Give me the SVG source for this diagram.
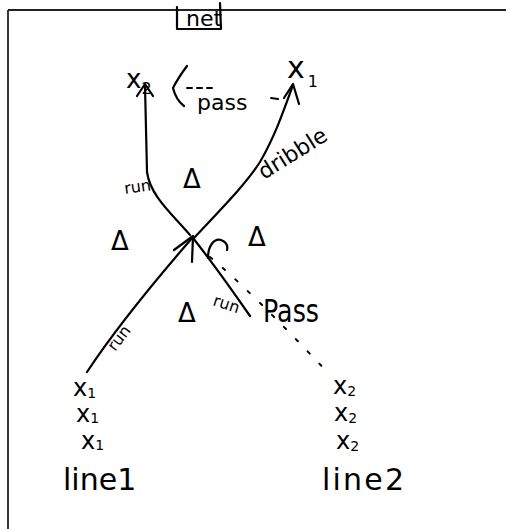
<svg xmlns="http://www.w3.org/2000/svg" width="506" height="529" viewBox="0 0 506 529">
<style>
.frame{stroke:#222;stroke-width:1.8;fill:none}
.ln{stroke:#000;stroke-width:2.2;fill:none;stroke-linecap:round;stroke-linejoin:round}
.dash{stroke:#000;stroke-width:2;fill:none;stroke-linecap:round}
.t{font-family:"DejaVu Sans","Liberation Sans",sans-serif;fill:#000}
.lab{font-family:"DejaVu Sans","Liberation Sans",sans-serif;fill:#000;font-size:16px}
.tri{font-family:"DejaVu Sans","Liberation Sans",sans-serif;fill:#000;font-size:26px}
.stk{font-family:"DejaVu Sans","Liberation Sans",sans-serif;fill:#000;font-size:24px}
</style>
<rect width="506" height="529" fill="#fff"/>
<path class="frame" d="M8,10 L506,10 M8,10 L8,529"/>

<g id="title">
  <path class="ln" d="M177,7 L177,29 L221,29 M220,3 L221,29"/>
  <text class="t" x="186" y="26" font-size="22">net</text>
</g>

<g id="connectors">
  <!-- left top run to x2 -->
  <path class="ln" d="M190,235 C170,212 150,195 147,172 L145,86"/>
  <path class="ln" d="M137,96 L145,84 L153,96"/>
  <!-- dribble to x1 -->
  <path class="ln" d="M194,238 C222,208 246,184 260,162 C275,136 284,110 293,85"/>
  <path class="ln" d="M284,98 L293,84 L299,104"/>
  <!-- top pass x1 to x2 -->
  <path class="dash" d="M187,88 L214,88" stroke-dasharray="5 5"/>
  <path class="dash" d="M271,98 L278,99"/>
  <path class="ln" d="M187,66 Q178,78 173,88 Q176,100 184,106"/>
  <!-- lower left run from line1 -->
  <path class="ln" d="M87,372 C118,325 160,275 193,237"/>
  <path class="ln" d="M174,250 L193,236 L192,262"/>
  <!-- lower right run -->
  <path class="ln" d="M193,238 C212,262 232,290 250,316"/>
  <!-- pass to line2 -->
  <path class="ln" d="M208,258 C208,246 214,238 221,240 C226,242 228,246 227,250"/>
  <path class="dash" d="M210,257 Q250,290 331,376" stroke-dasharray="3 14"/>
</g>

<g id="labels">
  <text class="t" x="197" y="110" font-size="22">pass</text>
  <text class="t" font-size="22" transform="translate(264,180) rotate(-32)">dribble</text>
  <text class="lab" transform="translate(125,194) rotate(-8)">run</text>
  <text class="lab" transform="translate(212,305) rotate(18)">run</text>
  <text class="lab" transform="translate(115,352) rotate(-52)">run</text>
  <text class="t" x="263" y="322" font-size="32" textLength="56" lengthAdjust="spacingAndGlyphs">Pass</text>
</g>

<g id="defenders">
  <text class="tri" x="183" y="188">Δ</text>
  <text class="tri" x="111" y="250">Δ</text>
  <text class="tri" x="248" y="246">Δ</text>
  <text class="tri" x="178" y="322">Δ</text>
</g>

<g id="top-x2">
  <text class="t" x="126" y="88" font-size="26">x<tspan font-size="16" dy="6">2</tspan></text>
</g>
<g id="top-x1">
  <text class="t" x="287" y="78" font-size="30">x<tspan font-size="16" dy="9" dx="3">1</tspan></text>
</g>

<g id="line1">
  <text class="stk" x="73" y="396">x<tspan font-size="14" dy="2">1</tspan></text>
  <text class="stk" x="76" y="422">x<tspan font-size="14" dy="1">1</tspan></text>
  <text class="stk" x="81" y="449">x<tspan font-size="14" dy="1">1</tspan></text>
  <text class="t" x="63" y="490" font-size="30">line1</text>
</g>

<g id="line2">
  <text class="stk" x="333" y="394">x<tspan font-size="14" dy="2">2</tspan></text>
  <text class="stk" x="334" y="421">x<tspan font-size="14" dy="2">2</tspan></text>
  <text class="stk" x="336" y="449">x<tspan font-size="14" dy="2">2</tspan></text>
  <text class="t" x="322" y="490" font-size="30" textLength="82" lengthAdjust="spacing">line2</text>
</g>
</svg>
